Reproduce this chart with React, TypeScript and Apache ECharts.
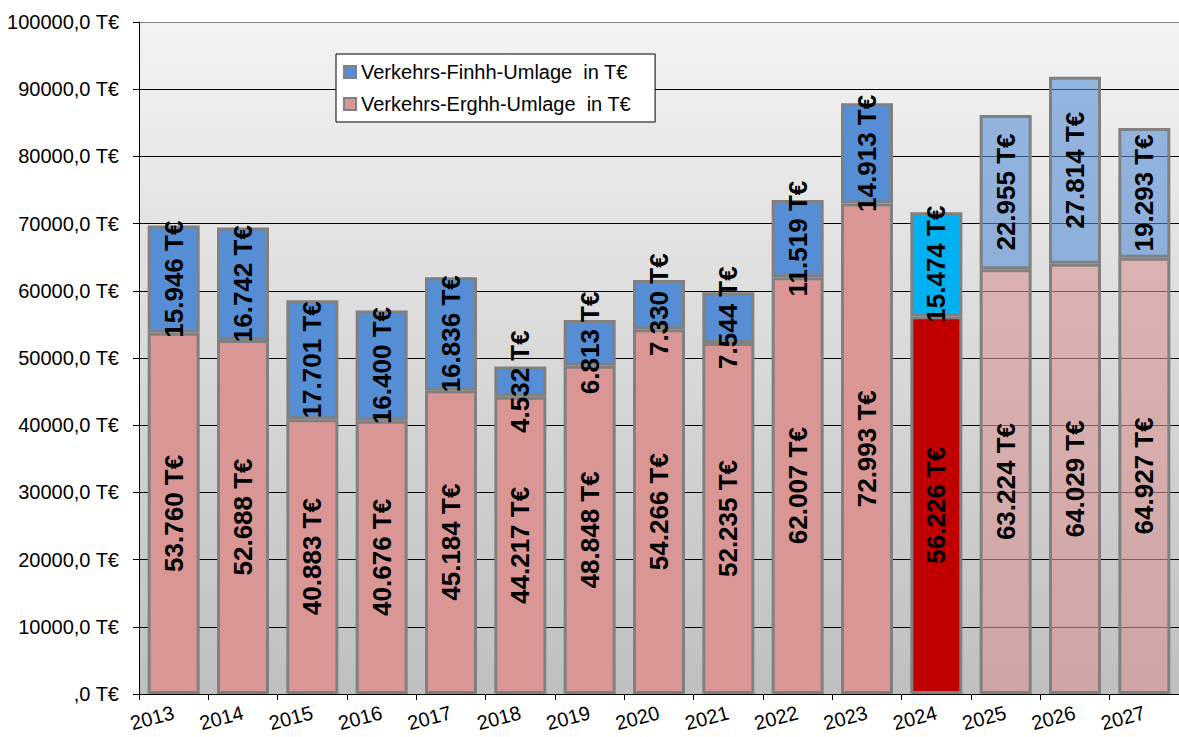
import React, { useEffect, useRef } from "react";
import * as echarts from "echarts";

const years = ["2013", "2014", "2015", "2016", "2017", "2018", "2019", "2020", "2021", "2022", "2023", "2024", "2025", "2026", "2027"];
const erghh = [53760, 52688, 40883, 40676, 45184, 44217, 48848, 54266, 52235, 62007, 72993, 56226, 63224, 64029, 64927];
const finhh = [15946, 16742, 17701, 16400, 16836, 4532, 6813, 7330, 7544, 11519, 14913, 15474, 22955, 27814, 19293];
const nameFin = "Verkehrs-Finhh-Umlage  in T€";
const nameErg = "Verkehrs-Erghh-Umlage  in T€";

const FONT = "Arial, 'Liberation Sans', sans-serif";

function fmt(v: number) {
  return v.toLocaleString("de-DE") + " T€";
}

export default function App() {
  const ref = useRef<HTMLDivElement>(null);
  useEffect(() => {
    document.body.style.margin = "0";
    const chart = echarts.init(ref.current!, null, { renderer: "svg" });
    const label = {
      show: true,
      position: "inside",
      rotate: 90,
      color: "#000",
      fontSize: 26,
      fontWeight: "bold",
      fontFamily: FONT,
      formatter: (p: any) => fmt(p.value),
    };
    const ergData = erghh.map((v, i) => {
      if (i === 11) return { value: v, itemStyle: { color: "#c00000" } };
      if (i >= 12) return { value: v, itemStyle: { color: "rgba(217,150,148,0.62)" } };
      return v;
    });
    const finData = finhh.map((v, i) => {
      if (i === 11) return { value: v, itemStyle: { color: "#00b0f0" } };
      if (i >= 12) return { value: v, itemStyle: { color: "rgba(85,142,213,0.6)" } };
      return v;
    });
    const splitColors = ["#000", "#000", "#000", "#000", "#000", "#000", "#000", "#000", "#000", "#000", "#808080"];
    chart.setOption({
      animation: false,
      legend: {
        orient: "vertical",
        left: 336,
        top: 54,
        data: [nameFin, nameErg],
        backgroundColor: "#fff",
        borderColor: "#000",
        borderWidth: 1,
        padding: [8, 24, 8, 7],
        itemGap: 12,
        itemWidth: 12,
        itemHeight: 12,
        icon: "rect",
        textStyle: { fontSize: 20, fontFamily: FONT, color: "#000" },
      },
      grid: {
        left: 139,
        top: 22,
        width: 1043,
        height: 672,
        show: true,
        borderWidth: 0,
        backgroundColor: new echarts.graphic.LinearGradient(0, 0, 0, 1, [
          { offset: 0, color: "#f3f3f3" },
          { offset: 1, color: "#bfbfbf" },
        ]),
      },
      xAxis: {
        type: "category",
        data: years,
        axisLine: { lineStyle: { color: "#000", width: 1 } },
        axisTick: { show: true, length: 6, lineStyle: { color: "#000" } },
        axisLabel: { rotate: 15, color: "#000", fontSize: 20, fontFamily: FONT, margin: 18 },
      },
      yAxis: {
        type: "value",
        min: 0,
        max: 100000,
        interval: 10000,
        axisLine: { show: true, lineStyle: { color: "#000", width: 1 } },
        axisTick: { show: true, length: 6, lineStyle: { color: "#000" } },
        splitLine: { show: true, lineStyle: { color: splitColors, width: 1 } },
        axisLabel: {
          color: "#000",
          fontSize: 20,
          fontFamily: FONT,
          margin: 20,
          formatter: (v: number) => (v === 0 ? ",0 T€" : v + ",0 T€"),
        },
      },
      series: [
        {
          name: nameErg,
          type: "bar",
          stack: "a",
          barWidth: "75%",
          data: ergData,
          itemStyle: { color: "#d99694", borderColor: "#808080", borderWidth: 3 },
          label,
        },
        {
          name: nameFin,
          type: "bar",
          stack: "a",
          barWidth: "75%",
          data: finData,
          itemStyle: { color: "#558ed5", borderColor: "#808080", borderWidth: 3 },
          label,
        },
      ],
    });
    return () => chart.dispose();
  }, []);
  return <div ref={ref} style={{ width: 1179, height: 737 }} />;
}
